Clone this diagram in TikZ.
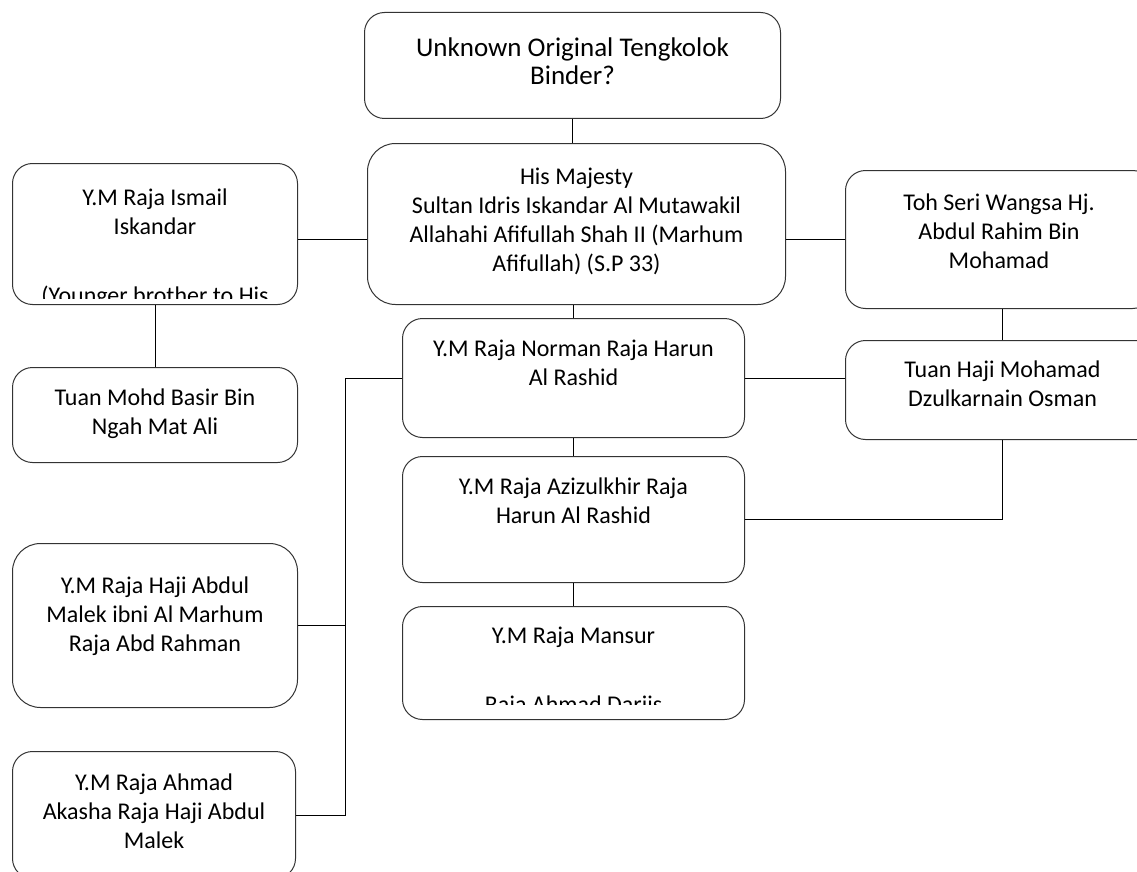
\documentclass[tikz,border=0pt]{standalone}
\usepackage{fontspec}
\setmainfont{Carlito}
\usetikzlibrary{calc}

\begin{document}
\begin{tikzpicture}[x=1pt,y=-1pt,
    person/.style={draw=black!80,line width=1pt,rounded corners=20pt,
      inner sep=0pt,anchor=north west,align=flush center,
      font=\fontsize{24}{29}\selectfont},
    note/.style={inner sep=0pt,anchor=base,font=\fontsize{24}{29}\selectfont},
    link/.style={draw=black,line width=1pt}]
    \clip (0,0) rectangle (1137,872);

    % centre column
    \node[person,font=\fontsize{27}{28}\selectfont,text width=416pt,text height=44pt,text depth=62pt] (origin) at (364,12)
      {Unknown Original Tengkolok\\Binder?};
    \node[person,rounded corners=28pt,text width=418pt,text height=41pt,text depth=120pt] (majesty) at (367,143)
      {His Majesty\\Sultan Idris Iskandar Al Mutawakil\\Allahahi Afifullah Shah II (Marhum\\Afifullah) (S.P 33)};
    \node[person,text width=342pt,text height=38pt,text depth=81pt] (norman) at (402,318)
      {Y.M Raja Norman Raja Harun\\Al Rashid};
    \node[person,text width=342pt,text height=38pt,text depth=88pt] (azizulkhir) at (402,456)
      {Y.M Raja Azizulkhir Raja\\Harun Al Rashid};
    \node[person,text width=342pt,text height=37pt,text depth=76pt] (mansur) at (402,606)
      {Y.M Raja Mansur};

    % left column
    \node[person,text width=285pt,text height=42pt,text depth=99pt] (ismail) at (12,163)
      {Y.M Raja Ismail\\Iskandar};
    \node[person,text width=285pt,text height=38pt,text depth=57pt] (basir) at (12,367)
      {Tuan Mohd Basir Bin\\Ngah Mat Ali};
    \node[person,rounded corners=28pt,text width=285pt,text height=50pt,text depth=114pt] (malek) at (12,543)
      {Y.M Raja Haji Abdul\\Malek ibni Al Marhum\\Raja Abd Rahman};
    \node[person,text width=283pt,text height=39pt,text depth=88pt] (akasha) at (12,751)
      {Y.M Raja Ahmad\\Akasha Raja Haji Abdul\\Malek};

    % right column
    \node[person,text width=307pt,text height=40pt,text depth=98pt] (tohseri) at (845,170)
      {Toh Seri Wangsa Hj.\\Abdul Rahim Bin\\Mohamad};
    \node[person,text width=314pt,text height=37pt,text depth=62pt] (tuanhaji) at (845,340)
      {Tuan Haji Mohamad\\Dzulkarnain Osman};

    % cut-off lines
    \begin{scope}
      \clip (ismail.north west) rectangle ([yshift=7pt]ismail.south east);
      \node[note] (ismail-note) at ([yshift=2pt]ismail.south) {(Younger brother to His};
    \end{scope}
    \begin{scope}
      \clip (mansur.north west) rectangle ([yshift=16pt]mansur.south east);
      \node[note] (mansur-note) at ([yshift=8pt]mansur.south) {Raja Ahmad Dariis};
    \end{scope}

    \coordinate (majesty-l) at ([yshift=-15pt]majesty.west);
    \coordinate (majesty-r) at ([yshift=-15pt]majesty.east);
    \coordinate (trunk) at (345,0);

    \path[link] (origin.south) -- (origin.south |- majesty.north)
      (majesty-l) -- (majesty-l -| ismail.east)
      (majesty-r) -- (majesty-r -| tohseri.west)
      (ismail.south) -- (ismail.south |- basir.north)
      (norman.north) -- (norman.north |- majesty.south)
      (tuanhaji.north) -- (tuanhaji.north |- tohseri.south)
      (norman.east) -- (norman.east -| tuanhaji.west)
      (norman.south) -- (azizulkhir.north)
      (azizulkhir.east) -| (tuanhaji.south)
      (azizulkhir.south) -- (mansur.north)
      (norman.west) -- (norman.west -| trunk) |- (akasha.east)
      (malek.east) -- (malek.east -| trunk);
\end{tikzpicture}
\end{document}
